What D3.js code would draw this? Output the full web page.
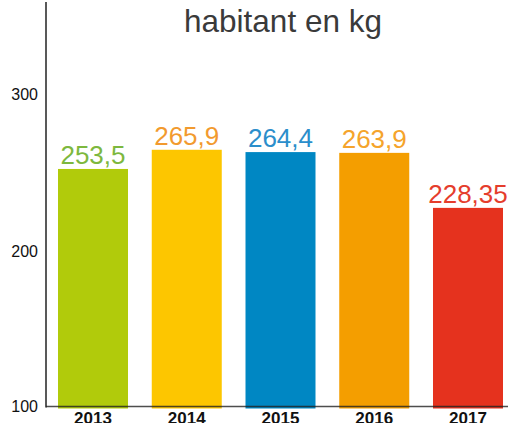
<!DOCTYPE html>
<html><head><meta charset="utf-8">
<script src="https://cdn.jsdelivr.net/npm/d3@7"></script>
<style>body{margin:0;background:#fff}svg{display:block}text{font-family:"Liberation Sans",Arial,Helvetica,sans-serif}</style>
</head><body>
<svg id="c" width="508" height="423"></svg>
<script>
const categories = ["2013","2014","2015","2016","2017"];
const values = [253.5, 265.9, 264.4, 263.9, 228.35];
const valueLabels = ["253,5","265,9","264,4","263,9","228,35"];
const barColors = ["#b1cb0b","#fdc600","#0087c3","#f49e00","#e5321e"];
const labelColors = ["#7db83e","#f29a2e","#2b8ecb","#f5a42b","#e53d2c"];
const yTicks = [100, 200, 300];
const title = "habitant en kg";

const svg = d3.select("#c");
const x0 = 46, x1 = 508;
const y = d3.scaleLinear().domain([100, 300]).range([406.5, 97]);
const x = d3.scaleBand().domain(categories).range([58, 503]).paddingInner(0.2533).paddingOuter(0);

svg.append("g").selectAll("rect").data(values).join("rect")
  .attr("x", (d,i) => x(categories[i]))
  .attr("y", d => y(d))
  .attr("width", x.bandwidth())
  .attr("height", d => y(100) - y(d) + 2)
  .attr("fill", (d,i) => barColors[i]);

svg.append("g").selectAll("text").data(values).join("text")
  .attr("x", (d,i) => x(categories[i]) + x.bandwidth()/2)
  .attr("y", d => y(d) - 5)
  .attr("text-anchor", "middle")
  .attr("font-size", 26)
  .attr("fill", (d,i) => labelColors[i])
  .text((d,i) => valueLabels[i]);

const ya = d3.axisLeft(y).tickValues(yTicks).tickSize(0).tickPadding(8);
const gy = svg.append("g").attr("transform", `translate(${x0},0)`).call(ya);
gy.select(".domain").remove();
gy.selectAll("text").attr("font-size", 16).attr("fill", "#111").style("font-family", "Liberation Sans, Arial, sans-serif");
gy.selectAll(".tick").filter(d => d === 300).attr("transform", "translate(0,95)");

svg.append("line").attr("x1", x0).attr("x2", x0).attr("y1", 2).attr("y2", y(100)+1)
  .attr("stroke", "#222").attr("stroke-width", 1.5);

const xa = d3.axisBottom(x).tickSize(0).tickPadding(5);
const gx = svg.append("g").attr("transform", `translate(0,${y(100)})`).call(xa);
gx.select(".domain").remove();
gx.selectAll("text").attr("font-size", 17).attr("font-weight", "bold").attr("fill", "#111").style("font-family", "Liberation Sans, Arial, sans-serif");
svg.append("line").attr("x1", x0).attr("x2", x1).attr("y1", y(100)).attr("y2", y(100))
  .attr("stroke", "#222").attr("stroke-width", 1.5).attr("stroke-opacity", 0.8);

svg.append("text").attr("x", 283).attr("y", 32).attr("text-anchor", "middle")
  .attr("font-size", 31.5).attr("fill", "#3a3a3a").text(title);
</script>
</body></html>
